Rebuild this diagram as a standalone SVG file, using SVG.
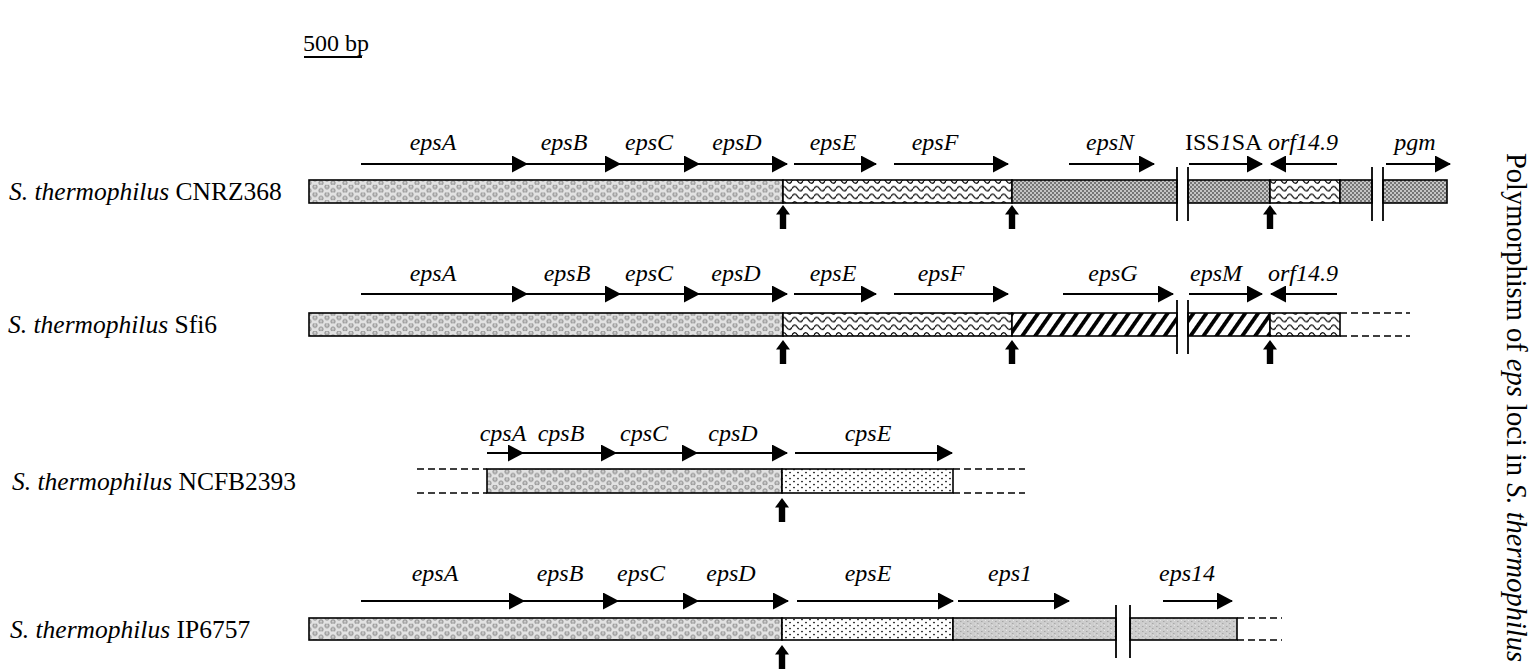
<svg xmlns="http://www.w3.org/2000/svg" xmlns:xlink="http://www.w3.org/1999/xlink" width="1533" height="669" viewBox="0 0 1533 669">
<defs>
<style>
.bar{stroke:#000;stroke-width:1.6}
.gene{stroke:#000;stroke-width:1.8;fill:none;marker-end:url(#ah)}
.brk{stroke:#000;stroke-width:1.8}
.dash{stroke:#000;stroke-width:1.5;stroke-dasharray:7 4}
.lbl{font-family:"Liberation Serif","Times New Roman",serif;font-style:italic;font-size:24px;text-anchor:middle;fill:#000}
.org{font-family:"Liberation Serif","Times New Roman",serif;font-size:25.5px;fill:#000}
.sb{font-family:"Liberation Serif","Times New Roman",serif;font-size:24px;fill:#000}
.it{font-style:italic}
</style>
<marker id="ah" markerUnits="userSpaceOnUse" markerWidth="16" markerHeight="17" viewBox="0 0 16 17" refX="15" refY="8.5" orient="auto">
<path d="M0,0 L16,8.5 L0,17 Z" fill="#000"/>
</marker>
<path id="up" d="M0,0 L7,9.5 L3.2,9.5 L3.2,24 L-3.2,24 L-3.2,9.5 L-7,9.5 Z" fill="#000"/>
<pattern id="pBub" width="12" height="7.7" patternUnits="userSpaceOnUse">
<rect width="12" height="7.7" fill="#e2e2e2"/>
<circle cx="3" cy="2" r="2.2" fill="#b8b8b8" stroke="#808080" stroke-width="0.7"/>
<circle cx="9" cy="5.8" r="2.2" fill="#b8b8b8" stroke="#808080" stroke-width="0.7"/>
<circle cx="3" cy="1.6" r="0.6" fill="#f2f2f2"/>
<circle cx="9" cy="5.4" r="0.6" fill="#f2f2f2"/>
</pattern>
<pattern id="pWave" width="11" height="7.7" patternUnits="userSpaceOnUse">
<rect width="11" height="7.7" fill="#fff"/>
<path d="M0,3.85 Q2.75,-0.8 5.5,3.85 T11,3.85" fill="none" stroke="#000" stroke-width="1.3"/>
</pattern>
<pattern id="pDense" width="4" height="4" patternUnits="userSpaceOnUse">
<rect width="4" height="4" fill="#c6c6c6"/>
<rect width="2" height="2" fill="#767676"/>
<rect x="2" y="2" width="2" height="2" fill="#767676"/>
</pattern>
<pattern id="pHatch" width="10.6" height="30" patternUnits="userSpaceOnUse" patternTransform="rotate(35)">
<rect width="10.6" height="30" fill="#fff"/>
<rect width="3.8" height="30" fill="#000"/>
</pattern>
<pattern id="pStip" width="8" height="6" patternUnits="userSpaceOnUse">
<rect width="8" height="6" fill="#fff"/>
<circle cx="2" cy="1.5" r="0.85" fill="#000"/>
<circle cx="6" cy="4.5" r="0.85" fill="#000"/>
</pattern>
<pattern id="pMot" width="7" height="5" patternUnits="userSpaceOnUse">
<rect width="7" height="5" fill="#cdcdcd"/>
<rect x="1" y="1" width="1.5" height="1" fill="#a5a5a5"/>
<rect x="4" y="3" width="1.5" height="1" fill="#a9a9a9"/>
<rect x="5" y="0" width="1" height="1" fill="#e6e6e6"/>
<rect x="2" y="3.5" width="1" height="1" fill="#e2e2e2"/>
</pattern>
</defs>
<rect width="1533" height="669" fill="#fff"/>

<g id="scalebar">
<text class="sb" x="303" y="51">500 bp</text>
<line x1="304" y1="57" x2="362" y2="57" stroke="#000" stroke-width="1.8"/>
</g>

<g id="title">
<text transform="translate(1507,153) rotate(90)" font-family="Liberation Serif, Times New Roman, serif" font-size="28.5">Polymorphism of <tspan class="it">eps</tspan> loci in <tspan class="it">S. thermophilus</tspan></text>
</g>

<g id="row-CNRZ368">
<text class="org" x="9" y="200"><tspan class="it">S. thermophilus</tspan> CNRZ368</text>
<rect class="bar" x="309" y="180" width="474" height="23" fill="url(#pBub)"/>
<rect class="bar" x="783" y="180" width="229" height="23" fill="url(#pWave)"/>
<rect class="bar" x="1012" y="180" width="165" height="23" fill="url(#pDense)"/>
<rect class="bar" x="1188" y="180" width="82" height="23" fill="url(#pDense)"/>
<rect class="bar" x="1270" y="180" width="70" height="23" fill="url(#pWave)"/>
<rect class="bar" x="1340" y="180" width="32" height="23" fill="url(#pDense)"/>
<rect class="bar" x="1383" y="180" width="64" height="23" fill="url(#pDense)"/>
<line class="brk" x1="1177" y1="167" x2="1177" y2="221"/>
<line class="brk" x1="1188" y1="167" x2="1188" y2="221"/>
<line class="brk" x1="1372" y1="167" x2="1372" y2="221"/>
<line class="brk" x1="1383" y1="167" x2="1383" y2="221"/>
<use href="#up" x="783" y="205"/>
<use href="#up" x="1012" y="205"/>
<use href="#up" x="1270" y="205"/>
<text class="lbl" x="433" y="150">epsA</text>
<text class="lbl" x="564" y="150">epsB</text>
<text class="lbl" x="649" y="150">epsC</text>
<text class="lbl" x="737" y="150">epsD</text>
<text class="lbl" x="833" y="150">epsE</text>
<text class="lbl" x="935" y="150">epsF</text>
<text class="lbl" x="1110" y="150">epsN</text>
<text class="sb" x="1185" y="150">ISS<tspan class="it">1</tspan>SA</text>
<text class="lbl" x="1303" y="150">orf14.9</text>
<text class="lbl" x="1415" y="150">pgm</text>
</g>

<g id="row-Sfi6">
<text class="org" x="8" y="333"><tspan class="it">S. thermophilus</tspan> Sfi6</text>
<rect class="bar" x="309" y="313" width="474" height="23" fill="url(#pBub)"/>
<rect class="bar" x="783" y="313" width="229" height="23" fill="url(#pWave)"/>
<rect class="bar" x="1012" y="313" width="165" height="23" fill="url(#pHatch)"/>
<rect class="bar" x="1188" y="313" width="82" height="23" fill="url(#pHatch)"/>
<rect class="bar" x="1270" y="313" width="70" height="23" fill="url(#pWave)"/>
<line class="dash" x1="1340" y1="313" x2="1410" y2="313"/>
<line class="dash" x1="1340" y1="336" x2="1410" y2="336"/>
<line class="brk" x1="1177" y1="300" x2="1177" y2="354"/>
<line class="brk" x1="1188" y1="300" x2="1188" y2="354"/>
<use href="#up" x="783" y="340"/>
<use href="#up" x="1012" y="340"/>
<use href="#up" x="1270" y="340"/>
<text class="lbl" x="433" y="281">epsA</text>
<text class="lbl" x="567" y="281">epsB</text>
<text class="lbl" x="649" y="281">epsC</text>
<text class="lbl" x="736" y="281">epsD</text>
<text class="lbl" x="833" y="281">epsE</text>
<text class="lbl" x="941" y="281">epsF</text>
<text class="lbl" x="1113" y="281">epsG</text>
<text class="lbl" x="1216" y="281">epsM</text>
<text class="lbl" x="1303" y="281">orf14.9</text>
</g>

<g id="row-NCFB2393">
<text class="org" x="12" y="490"><tspan class="it">S. thermophilus</tspan> NCFB2393</text>
<line class="dash" x1="417" y1="469" x2="487" y2="469"/>
<line class="dash" x1="417" y1="493" x2="487" y2="493"/>
<rect class="bar" x="487" y="469" width="295" height="24" fill="url(#pBub)"/>
<rect class="bar" x="782" y="469" width="171" height="24" fill="url(#pStip)"/>
<line class="dash" x1="953" y1="469" x2="1025" y2="469"/>
<line class="dash" x1="953" y1="493" x2="1025" y2="493"/>
<use href="#up" x="782" y="498"/>
<text class="lbl" x="503" y="441">cpsA</text>
<text class="lbl" x="561" y="441">cpsB</text>
<text class="lbl" x="644" y="441">cpsC</text>
<text class="lbl" x="733" y="441">cpsD</text>
<text class="lbl" x="868" y="441">cpsE</text>
</g>

<g id="row-IP6757">
<text class="org" x="10" y="638"><tspan class="it">S. thermophilus</tspan> IP6757</text>
<rect class="bar" x="309" y="618" width="473" height="22" fill="url(#pBub)"/>
<rect class="bar" x="782" y="618" width="171" height="22" fill="url(#pStip)"/>
<rect class="bar" x="953" y="618" width="163" height="22" fill="url(#pMot)"/>
<rect class="bar" x="1130" y="618" width="107" height="22" fill="url(#pMot)"/>
<line class="dash" x1="1237" y1="618" x2="1282" y2="618"/>
<line class="dash" x1="1237" y1="640" x2="1282" y2="640"/>
<line class="brk" x1="1116" y1="605" x2="1116" y2="658"/>
<line class="brk" x1="1130" y1="605" x2="1130" y2="658"/>
<use href="#up" x="782" y="645"/>
<text class="lbl" x="435" y="581">epsA</text>
<text class="lbl" x="560" y="581">epsB</text>
<text class="lbl" x="641" y="581">epsC</text>
<text class="lbl" x="731" y="581">epsD</text>
<text class="lbl" x="868" y="581">epsE</text>
<text class="lbl" x="1010" y="581">eps1</text>
<text class="lbl" x="1187" y="581">eps14</text>
</g>

<g id="connectors">
<line class="gene" x1="361" y1="164" x2="527" y2="164"/>
<line class="gene" x1="527" y1="164" x2="620" y2="164"/>
<line class="gene" x1="620" y1="164" x2="699" y2="164"/>
<line class="gene" x1="699" y1="164" x2="787" y2="164"/>
<line class="gene" x1="794" y1="164" x2="876" y2="164"/>
<line class="gene" x1="894" y1="164" x2="1008" y2="164"/>
<line class="gene" x1="1069" y1="164" x2="1154" y2="164"/>
<line class="gene" x1="1189" y1="164" x2="1262" y2="164"/>
<line class="gene" x1="1337" y1="164" x2="1271" y2="164"/>
<line class="gene" x1="1386" y1="164" x2="1450" y2="164"/>

<line class="gene" x1="361" y1="294" x2="527" y2="294"/>
<line class="gene" x1="527" y1="294" x2="620" y2="294"/>
<line class="gene" x1="620" y1="294" x2="699" y2="294"/>
<line class="gene" x1="699" y1="294" x2="787" y2="294"/>
<line class="gene" x1="794" y1="294" x2="876" y2="294"/>
<line class="gene" x1="894" y1="294" x2="1008" y2="294"/>
<line class="gene" x1="1063" y1="294" x2="1173" y2="294"/>
<line class="gene" x1="1189" y1="294" x2="1262" y2="294"/>
<line class="gene" x1="1337" y1="294" x2="1271" y2="294"/>

<line class="gene" x1="487" y1="453" x2="523" y2="453"/>
<line class="gene" x1="523" y1="453" x2="616" y2="453"/>
<line class="gene" x1="616" y1="453" x2="697" y2="453"/>
<line class="gene" x1="697" y1="453" x2="787" y2="453"/>
<line class="gene" x1="795" y1="453" x2="952" y2="453"/>

<line class="gene" x1="361" y1="601" x2="524" y2="601"/>
<line class="gene" x1="524" y1="601" x2="618" y2="601"/>
<line class="gene" x1="618" y1="601" x2="698" y2="601"/>
<line class="gene" x1="698" y1="601" x2="788" y2="601"/>
<line class="gene" x1="797" y1="601" x2="953" y2="601"/>
<line class="gene" x1="958" y1="601" x2="1069" y2="601"/>
<line class="gene" x1="1163" y1="601" x2="1232" y2="601"/>
</g>
</svg>
